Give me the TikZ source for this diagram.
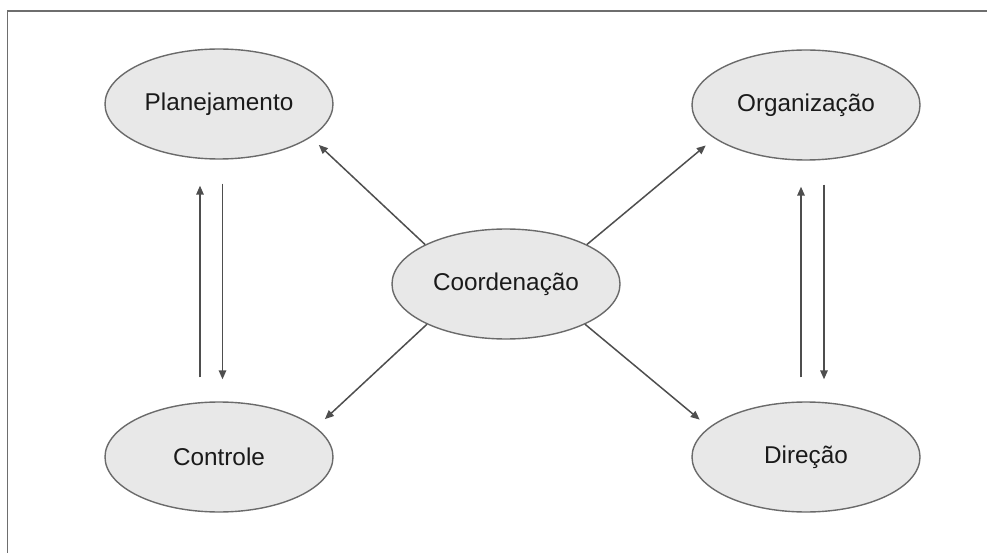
\documentclass[tikz,border=0pt]{standalone}
\usepackage{fontspec}
\setmainfont{Liberation Sans}
\usetikzlibrary{shapes.geometric,arrows.meta}
\definecolor{ellfill}{HTML}{E8E8E8}
\definecolor{ellline}{HTML}{6A6A6A}
\definecolor{arrline}{HTML}{4E4E4E}
\definecolor{frameline}{HTML}{6E6E6E}
\definecolor{txt}{HTML}{1A1A1A}
\tikzset{
  bubble/.style={ellipse, draw=ellline, fill=ellfill, line width=1.4pt,
    minimum width=228pt, minimum height=110pt, inner sep=0pt,
    text=txt, font=\fontsize{24.3}{29}\selectfont},
  link/.style={draw=arrline, line width=1.5pt,
    -{Triangle[length=9pt,width=7.5pt]}},
}
\begin{document}
\begin{tikzpicture}[x=1pt,y=-1pt]
  \useasboundingbox (0,0) rectangle (987,553);
  % frame
  \draw[frameline, line width=1.5pt] (987,11) -- (7.5,11) -- (7.5,553);

  % nodes
  \node[bubble] (plan) at (219,104) {Planejamento};
  \node[bubble] (org)  at (806,105) {Organização};
  \node[bubble] (coord) at (506,284) {Coordenação};
  \node[bubble] (ctrl) at (219,457) {Controle};
  \node[bubble] (dir)  at (806,457) {Direção};

  % from the centre to the four functions
  \draw[link, shorten >=11pt] (coord.154) -- (plan.-20);
  \draw[link, shorten >=11pt] (coord.26) -- (org.200);
  \draw[link, shorten >=12pt] (coord.207) -- (ctrl.17);
  \draw[link, shorten >=12pt] (coord.333) -- (dir.163);

  % vertical pairs
  \draw[link, shorten <=24pt, shorten >=26pt]
    ([xshift=-19pt]ctrl.north) -- ([xshift=-19pt]plan.south);
  \draw[link, shorten <=24pt, shorten >=22pt]
    ([xshift=3.5pt]plan.south) -- ([xshift=3.5pt]ctrl.north);
  \draw[link, shorten <=24pt, shorten >=26pt]
    ([xshift=-5pt]dir.north) -- ([xshift=-5pt]org.south);
  \draw[link, shorten <=24pt, shorten >=22pt]
    ([xshift=18pt]org.south) -- ([xshift=18pt]dir.north);
\end{tikzpicture}
\end{document}
